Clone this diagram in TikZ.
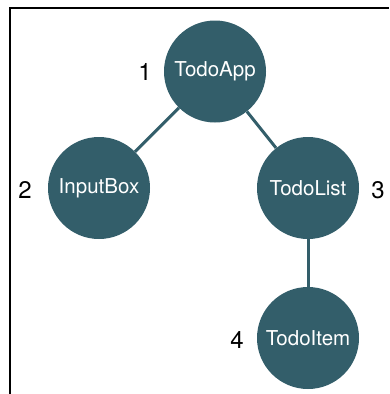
\documentclass[tikz,border=0pt]{standalone}
\usepackage{fontspec}
\setmainfont{TeX Gyre Heros}
\usepackage{tikz}
\usetikzlibrary{shapes}
\definecolor{compcol}{RGB}{51,94,106}
\tikzstyle{comp}=[circle,fill=compcol,text=white,inner sep=0pt,minimum size=102pt,font=\fontsize{20.5}{24}\selectfont]
\tikzstyle{num}=[font=\fontsize{24}{27}\selectfont]
\tikzstyle{link}=[compcol,line width=3pt]

\begin{document}
\begin{tikzpicture}[x=1pt,y=-1pt]
\useasboundingbox (0,0) rectangle (389,394);
\draw[line width=2pt] (10,394) -- (10,8) -- (389,8);
\node[num] (n1) at (145,72) {1};
\node[num] (n2) at (25,190) {2};
\node[num] (n3) at (378,190) {3};
\node[num] (n4) at (237,340) {4};
\node[comp] (app) at (215,71.5) {TodoApp};
\node[comp] (input) at (99,188) {InputBox};
\node[comp] (list) at (308,188) {TodoList};
\node[comp] (item) at (308,338) {TodoItem};
\draw[link] (app) -- (input);
\draw[link] (app) -- (list);
\draw[link] (list) -- (item);
\end{tikzpicture}
\end{document}
